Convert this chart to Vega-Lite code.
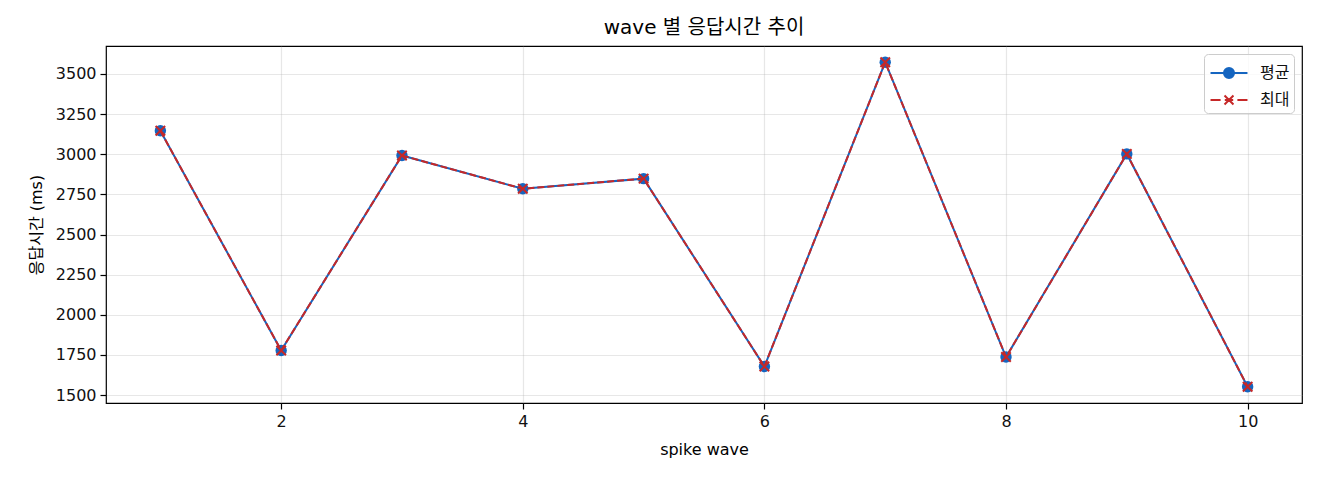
{
  "$schema": "https://vega.github.io/schema/vega-lite/v6.json",
  "width": 1196,
  "height": 357,
  "autosize": {"type": "none"},
  "padding": {"left": 106, "top": 46, "right": 18, "bottom": 77},
  "background": "white",
  "title": {
    "text": "wave 별 응답시간 추이",
    "font": "DejaVu Sans, Noto Sans CJK KR",
    "fontSize": 20,
    "fontWeight": "normal",
    "color": "#000",
    "offset": 8
  },
  "config": {
    "font": "DejaVu Sans, Noto Sans CJK KR",
    "view": {"stroke": "#000", "strokeWidth": 1.2},
    "axis": {
      "labelFont": "DejaVu Sans, Noto Sans CJK KR",
      "labelFontSize": 16,
      "labelColor": "#111",
      "titleFont": "DejaVu Sans, Noto Sans CJK KR",
      "titleFontSize": 16,
      "titleFontWeight": "normal",
      "titleColor": "#000",
      "tickColor": "#000",
      "tickSize": 6,
      "tickWidth": 1.2,
      "domain": false,
      "gridColor": "#b0b0b0",
      "gridOpacity": 0.3,
      "gridWidth": 1.2,
      "labelPadding": 4
    },
    "legend": {
      "labelFont": "Noto Sans CJK KR",
      "labelFontSize": 16,
      "labelColor": "#111"
    }
  },
  "data": {
    "values": [
      {"wave": 1, "series": "평균", "ms": 3146},
      {"wave": 2, "series": "평균", "ms": 1778},
      {"wave": 3, "series": "평균", "ms": 2992},
      {"wave": 4, "series": "평균", "ms": 2785},
      {"wave": 5, "series": "평균", "ms": 2848},
      {"wave": 6, "series": "평균", "ms": 1678},
      {"wave": 7, "series": "평균", "ms": 3573},
      {"wave": 8, "series": "평균", "ms": 1737},
      {"wave": 9, "series": "평균", "ms": 3002},
      {"wave": 10, "series": "평균", "ms": 1552},
      {"wave": 1, "series": "최대", "ms": 3146},
      {"wave": 2, "series": "최대", "ms": 1778},
      {"wave": 3, "series": "최대", "ms": 2992},
      {"wave": 4, "series": "최대", "ms": 2785},
      {"wave": 5, "series": "최대", "ms": 2848},
      {"wave": 6, "series": "최대", "ms": 1678},
      {"wave": 7, "series": "최대", "ms": 3573},
      {"wave": 8, "series": "최대", "ms": 1737},
      {"wave": 9, "series": "최대", "ms": 3002},
      {"wave": 10, "series": "최대", "ms": 1552}
    ]
  },
  "encoding": {
    "x": {
      "field": "wave",
      "type": "quantitative",
      "title": "spike wave",
      "scale": {"domain": [0.55, 10.45], "nice": false, "zero": false},
      "axis": {"values": [2, 4, 6, 8, 10], "titlePadding": 12}
    },
    "y": {
      "field": "ms",
      "type": "quantitative",
      "title": "응답시간 (ms)",
      "scale": {"domain": [1451, 3674], "nice": false, "zero": false},
      "axis": {"values": [1500, 1750, 2000, 2250, 2500, 2750, 3000, 3250, 3500], "format": "d", "titlePadding": 11}
    },
    "color": {
      "field": "series",
      "type": "nominal",
      "scale": {"domain": ["평균", "최대"], "range": ["#1565C0", "#C62828"]},
      "legend": {
        "title": null,
        "orient": "top-right",
        "offset": 8,
        "padding": 4,
        "rowPadding": 2,
        "symbolSize": 784,
        "symbolOffset": 6,
        "symbolStrokeWidth": 2,
        "labelOffset": 16,
        "strokeColor": "#cccccc",
        "fillColor": "rgba(255,255,255,0.8)",
        "cornerRadius": 4,
        "encode": {
          "symbols": {
            "update": {
              "shape": {"signal": "datum.value === '평균' ? 'M-1.32,0L1.32,0M0.36,0A0.36,0.36,0,1,1,-0.36,0A0.36,0.36,0,1,1,0.36,0Z' : 'M-1.32,0L-0.6,0M-0.3,0L0.3,0M0.6,0L1.32,0M-0.32,-0.32L0.32,0.32M-0.32,0.32L0.32,-0.32'"},
              "fill": {"signal": "datum.value === '평균' ? '#1565C0' : 'transparent'"},
              "strokeWidth": {"value": 2},
              "opacity": {"value": 1}
            }
          }
        }
      }
    }
  },
  "layer": [
    {
      "transform": [{"filter": "datum.series === '평균'"}],
      "mark": {"type": "line", "strokeWidth": 2}
    },
    {
      "transform": [{"filter": "datum.series === '평균'"}],
      "mark": {"type": "point", "shape": "circle", "filled": true, "size": 130, "opacity": 1}
    },
    {
      "transform": [{"filter": "datum.series === '최대'"}],
      "mark": {"type": "line", "strokeWidth": 2, "strokeDash": [7, 3]}
    },
    {
      "transform": [{"filter": "datum.series === '최대'"}],
      "mark": {"type": "point", "shape": "M-1,-1L1,1M-1,1L1,-1", "filled": false, "size": 90, "strokeWidth": 2, "opacity": 1}
    }
  ]
}
